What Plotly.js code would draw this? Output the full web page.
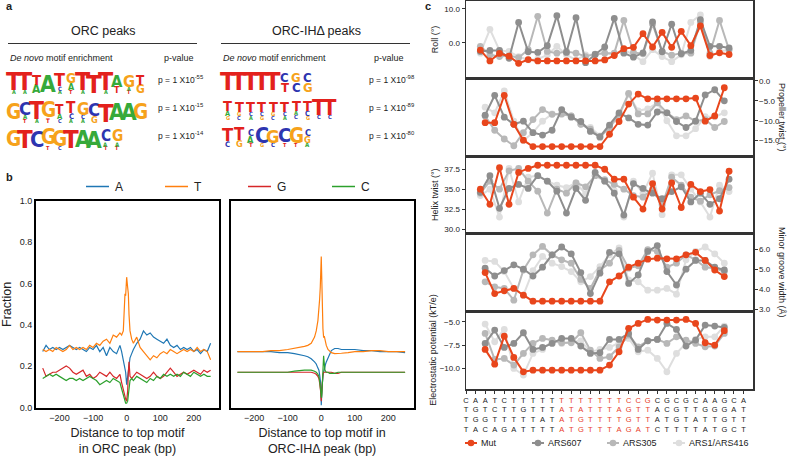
<!DOCTYPE html>
<html><head><meta charset="utf-8">
<script src="https://cdn.plot.ly/plotly-3.0.1.min.js"></script>
<style>html,body{margin:0;padding:0;background:#fff}#chart{width:788px;height:456px}</style>
</head><body><div id="chart"></div>
<script>
// ---------------- DATA ----------------
// Panel a: motif logos (columns listed top-to-bottom as [letter, relative height])
const LOGO_ORC_1 = [
 [['T',0.83],['A',0.15]], [['T',0.83],['A',0.15]], [['T',0.5],['A',0.4]], [['A',0.92]],
 [['T',0.6],['C',0.2],['A',0.15]], [['G',0.45],['A',0.3],['T',0.15]], [['T',0.83],['A',0.15]],
 [['T',0.9]], [['T',0.83],['A',0.15]], [['A',0.55],['T',0.3]], [['G',0.55],['A',0.15],['T',0.15]],
 [['T',0.45],['G',0.4]]
];
const LOGO_ORC_2 = [
 [['G',0.95]], [['C',0.6],['A',0.2],['T',0.15]], [['T',0.8],['A',0.15]], [['G',0.7],['T',0.2]],
 [['T',0.45],['A',0.25],['C',0.15]], [['T',0.5],['C',0.25],['A',0.15]], [['G',0.55],['C',0.2],['A',0.15]],
 [['C',0.6],['G',0.3]], [['T',0.9]], [['A',0.95]], [['A',0.95]], [['G',0.95]]
];
const LOGO_ORC_3 = [
 [['G',0.95]], [['T',0.95]], [['C',0.95]], [['G',0.8],['T',0.15]], [['G',0.7],['C',0.15]],
 [['T',0.95]], [['A',0.95]], [['A',0.9]], [['C',0.5],['A',0.2],['T',0.15]], [['G',0.5],['A',0.2],['T',0.15]]
];
const LOGO_IH_1 = [
 [['T',0.98]], [['T',0.98]], [['T',0.98]], [['T',0.98]], [['T',0.98]],
 [['C',0.45],['T',0.45]], [['G',0.45],['C',0.45]], [['C',0.45],['G',0.45]]
];
const LOGO_IH_2 = [
 [['T',0.5],['A',0.25],['G',0.18]], [['T',0.5],['G',0.2],['C',0.18]], [['T',0.5],['C',0.2],['A',0.18]],
 [['T',0.5],['C',0.2],['G',0.18]], [['T',0.5],['G',0.2],['C',0.18]], [['T',0.5],['C',0.2],['A',0.18]],
 [['T',0.5],['A',0.2],['C',0.2]], [['T',0.5],['C',0.25],['G',0.18]], [['T',0.75],['C',0.2]], [['T',0.75],['C',0.2]]
];
const LOGO_IH_3 = [
 [['T',0.6],['C',0.25]], [['T',0.55],['G',0.3]], [['C',0.3],['A',0.3],['T',0.2]], [['C',0.7],['G',0.18]],
 [['G',0.6],['C',0.2]], [['C',0.65],['T',0.18]], [['G',0.7],['T',0.15]], [['C',0.3],['G',0.3],['A',0.2]]
];
const PVAL_ORC = ['-55','-15','-14'];
const PVAL_IH = ['-98','-89','-80'];

// Panel b: nucleotide fraction profiles
const NT_NAMES = ['A','T','G','C'];
const X_ORC = [-250,-240,-230,-220,-210,-200,-190,-180,-170,-160,-150,-140,-130,-120,-110,-100,-90,-80,-70,-60,-50,-40,-30,-20,
 -15,-10,-5,-3,0,3,5,7,10,15,
 20,30,40,50,60,70,80,90,100,110,120,130,140,150,160,170,180,190,200,210,220,230,240,250];
const A_ORC = [0.27,0.30,0.28,0.29,0.28,0.29,0.28,0.29,0.30,0.29,0.28,0.29,0.28,0.27,0.29,0.28,0.30,0.27,0.29,0.25,0.29,0.27,0.26,0.30,
 0.27,0.22,0.19,0.17,0.11,0.16,0.19,0.22,0.24,0.26,
 0.28,0.31,0.33,0.37,0.35,0.36,0.34,0.33,0.32,0.31,0.33,0.30,0.29,0.30,0.28,0.29,0.28,0.29,0.27,0.28,0.26,0.28,0.27,0.31];
const T_ORC = [0.28,0.27,0.28,0.27,0.29,0.28,0.27,0.28,0.30,0.28,0.29,0.28,0.29,0.28,0.30,0.29,0.31,0.30,0.32,0.33,0.31,0.35,0.34,0.36,
 0.35,0.37,0.55,0.54,0.63,0.58,0.55,0.45,0.37,0.33,
 0.31,0.34,0.29,0.27,0.25,0.23,0.25,0.24,0.26,0.27,0.26,0.28,0.27,0.26,0.27,0.28,0.27,0.28,0.27,0.29,0.27,0.28,0.27,0.23];
const G_ORC = [0.19,0.15,0.16,0.17,0.17,0.18,0.19,0.20,0.19,0.17,0.16,0.17,0.18,0.15,0.16,0.14,0.15,0.17,0.16,0.15,0.17,0.15,0.14,0.16,
 0.12,0.08,0.05,0.04,0.03,0.08,0.17,0.22,0.15,0.14,
 0.15,0.17,0.16,0.15,0.14,0.15,0.17,0.15,0.14,0.15,0.17,0.19,0.17,0.15,0.16,0.17,0.16,0.17,0.18,0.17,0.16,0.18,0.17,0.18];
const C_ORC = [0.14,0.15,0.16,0.15,0.16,0.15,0.14,0.13,0.14,0.14,0.13,0.14,0.13,0.14,0.15,0.14,0.13,0.11,0.12,0.13,0.12,0.14,0.13,0.12,
 0.09,0.06,0.03,0.02,0.02,0.03,0.06,0.10,0.13,0.14,
 0.13,0.15,0.14,0.13,0.12,0.14,0.13,0.15,0.14,0.16,0.15,0.16,0.15,0.16,0.15,0.17,0.16,0.15,0.17,0.16,0.15,0.16,0.15,0.15];

const X_IH = [-250,-225,-200,-175,-150,-125,-100,-80,-60,-50,-40,-30,-20,-15,-10,-7,-5,-3,-2,-1,0,
 1,2,3,5,7,8,9,11,13,15,20,25,30,40,50,60,80,100,125,150,175,200,225,250];
const A_IH = [0.27,0.27,0.27,0.27,0.27,0.265,0.265,0.26,0.255,0.25,0.245,0.235,0.22,0.21,0.19,0.18,0.16,0.14,0.12,0.08,0.01,
 0.05,0.09,0.12,0.15,0.17,0.18,0.19,0.20,0.21,0.22,0.24,0.26,0.275,0.285,0.285,0.28,0.28,0.28,0.275,0.275,0.27,0.27,0.27,0.265];
const T_IH = [0.27,0.27,0.27,0.27,0.275,0.275,0.28,0.285,0.29,0.295,0.30,0.31,0.34,0.37,0.42,0.47,0.52,0.58,0.63,0.69,0.73,
 0.66,0.57,0.48,0.38,0.34,0.34,0.345,0.33,0.31,0.30,0.28,0.27,0.265,0.26,0.26,0.262,0.265,0.27,0.27,0.275,0.275,0.27,0.27,0.27];
const G_IH = [0.17,0.17,0.17,0.17,0.17,0.17,0.17,0.17,0.17,0.17,0.17,0.17,0.165,0.16,0.15,0.14,0.12,0.10,0.08,0.05,0.03,
 0.06,0.10,0.13,0.16,0.17,0.17,0.17,0.17,0.17,0.17,0.17,0.17,0.17,0.165,0.165,0.17,0.17,0.17,0.17,0.17,0.17,0.17,0.17,0.17];
const C_IH = [0.17,0.17,0.17,0.17,0.17,0.17,0.17,0.175,0.18,0.18,0.18,0.18,0.175,0.17,0.16,0.15,0.13,0.11,0.09,0.07,0.05,
 0.05,0.07,0.12,0.20,0.25,0.23,0.20,0.18,0.175,0.17,0.17,0.165,0.165,0.165,0.17,0.17,0.17,0.17,0.17,0.17,0.17,0.17,0.17,0.17];

// Panel c: DNA shape features
const SEQ_MUT = 'CAATCTTTTTTTTTTTTCCGCGCGCAAGCA';
const SEQ_607 = 'TGTCTTGTTTATATTTAGTTACGTTGGGAT';
const SEQ_305 = 'TGGTTTTTATATGTTTTGTTATGTATTGTT';
const SEQ_ARS1 = 'TACAGATTTTATGTTTAGATCTTTTATGCT';
const POS_STEP = [1.5,2.5,3.5,4.5,5.5,6.5,7.5,8.5,9.5,10.5,11.5,12.5,13.5,14.5,15.5,16.5,17.5,18.5,19.5,20.5,21.5,22.5,23.5,24.5,25.5,26.5,27.5];
const POS_BASE = [2,3,4,5,6,7,8,9,10,11,12,13,14,15,16,17,18,19,20,21,22,23,24,25,26,27];

const ROLL_MUT = [-2.1,-5.3,-3.1,-3.9,-6.0,-4.9,-5.3,-5.3,-5.3,-5.3,-5.3,-5.3,-5.3,-5.0,-3.7,-1.7,-1.3,2.7,-1.2,3.1,-1.3,3.4,-0.8,5.0,-3.7,-2.9,-3.4];
const ROLL_607 = [-2.5,-2.2,-2.2,-4.5,6.0,-2.6,-2.8,-0.8,8.0,-2.8,7.4,-5.8,-3.4,-1.2,7.2,-3.0,-4.2,-2.9,6.2,-2.6,5.5,-3.2,-2.2,6.8,-1.0,-1.0,-1.5];
const ROLL_305 = [-1.0,-3.5,-4.0,-3.8,-4.3,-2.0,7.8,-2.5,-3.0,-2.5,-3.0,-4.0,-3.3,-3.0,-3.0,6.6,-2.8,-3.2,5.5,-2.5,-3.6,-3.0,-3.0,6.0,-3.0,6.6,-2.0];
const ROLL_ARS1 = [-3.0,4.0,-2.2,-2.5,-4.0,-5.0,-4.8,-3.5,-1.0,-3.5,-5.0,-3.5,-3.5,-3.0,-3.5,-2.0,-3.5,-5.5,-2.0,-4.0,-5.5,-3.5,6.0,8.2,-4.0,-2.5,-2.0];

const PT_MUT = [-10.5,-10.5,-3.6,-10.9,-14.9,-16.5,-16.5,-16.5,-16.5,-16.5,-16.5,-16.5,-16.5,-13.4,-10.2,-5.8,-3.3,-4.5,-4.5,-4.5,-4.5,-4.5,-4.3,-10.1,-8.8,-1.7];
const PT_607 = [-8.6,-3.6,-9.1,-10.9,-10.1,-13.0,-13.6,-12.4,-7.2,-9.1,-10.2,-12.7,-14.0,-11.1,-8.0,-9.3,-10.9,-11.1,-7.8,-8.0,-10.2,-11.7,-10.1,-3.5,-2.2,-5.0];
const PT_305 = [-8.8,-12.4,-14.6,-16.3,-13.0,-9.7,-7.2,-8.4,-8.3,-8.8,-10.9,-12.1,-14.2,-11.7,-8.4,-3.1,-8.3,-8.3,-5.5,-8.0,-9.7,-8.8,-10.1,-9.7,-11.7,-10.2];
const PT_ARS1 = [-6.6,-8.0,-2.5,-10.1,-15.0,-13.0,-10.1,-8.3,-8.4,-8.8,-10.9,-11.7,-13.8,-11.7,-8.8,-3.4,-7.5,-7.0,-5.5,-10.0,-13.8,-13.8,-12.0,-9.0,-9.0,-8.0];

const HELT_MUT = [35.0,33.1,37.7,33.1,37.1,37.6,38.0,38.0,38.0,38.0,38.0,38.0,38.0,37.5,36.25,36.25,34.0,32.5,35.7,32.5,35.8,32.7,35.6,34.7,34.95,32.25,37.25];
const HELT_607 = [34.6,36.7,32.6,35.1,35.6,35.1,36.7,36.0,34.75,32.0,35.1,33.6,37.1,36.0,34.5,31.75,35.7,35.1,34.5,33.8,34.7,35.3,33.4,34.5,33.1,33.8,36.25];
const HELT_305 = [34.5,36.0,35.0,37.3,37.6,36.0,34.75,32.0,35.0,34.5,35.8,35.3,36.7,36.2,35.6,35.0,34.2,34.0,35.0,33.0,36.5,35.5,34.0,33.5,34.3,34.8,35.2];
const HELT_ARS1 = [34.2,35.0,31.5,37.6,33.4,36.5,36.7,36.0,35.5,35.2,35.8,34.4,36.7,36.0,34.8,31.5,36.0,34.5,37.0,31.8,36.8,36.8,35.0,33.4,31.5,35.5,34.7];

const MGW_MUT = [4.82,3.77,3.91,4.03,3.69,3.39,3.39,3.39,3.39,3.39,3.39,3.39,3.39,4.36,4.65,5.09,5.29,5.49,5.54,5.51,5.51,5.71,5.83,5.43,4.95,4.62];
const MGW_607 = [5.04,4.65,4.92,5.21,4.99,4.65,5.09,5.71,6.10,5.76,4.82,3.77,4.79,5.83,5.76,4.28,4.70,5.88,6.17,4.87,4.20,4.99,5.43,5.43,5.09,4.95];
const MGW_305 = [4.36,4.11,4.03,3.44,4.95,5.71,6.13,5.71,5.46,5.29,4.48,4.03,4.95,5.29,5.93,5.04,5.16,5.97,5.88,5.09,5.29,5.71,5.46,5.09,5.04,4.87];
const MGW_ARS1 = [5.43,5.38,4.87,4.03,3.69,4.92,5.63,5.29,5.12,4.87,4.36,4.62,5.12,5.71,6.05,4.45,4.36,3.94,3.94,4.03,3.74,5.46,5.88,6.10,5.76,5.29];

const EP_MUT = [-7.96,-9.54,-6.54,-8.82,-10.36,-10.18,-10.18,-10.18,-10.18,-10.18,-10.18,-10.18,-10.18,-9.64,-8.21,-5.71,-5.18,-4.75,-4.82,-4.82,-4.82,-4.75,-5.18,-7.25,-7.5,-5.96];
const EP_607 = [-7.32,-5.89,-7.75,-7.32,-6.18,-7.96,-7.75,-7.32,-6.79,-6.79,-7.61,-8.39,-8.32,-6.89,-6.89,-6.25,-7.96,-7.04,-6.89,-5.18,-5.82,-7.61,-6.96,-5.36,-5.46,-5.61];
const EP_305 = [-6.25,-9.04,-8.93,-9.64,-8.39,-7.32,-6.79,-6.96,-7.25,-7.25,-6.18,-8.04,-8.93,-8.75,-7.68,-6.43,-7.68,-7.04,-6.89,-7.32,-6.61,-6.96,-7.32,-7.68,-7.61,-6.25];
const EP_ARS1 = [-5.25,-7.14,-5.82,-10.0,-10.71,-8.39,-7.96,-7.04,-7.32,-7.14,-7.04,-8.21,-7.96,-7.75,-7.25,-6.79,-8.21,-8.04,-8.93,-10.36,-8.39,-7.32,-6.89,-6.61,-6.61,-5.46];

const SERIES_NAMES = ['Mut','ARS607','ARS305','ARS1/ARS416'];

// ---------------- BUILD ----------------
const W = 788, H = 456;
const px = x => x / W;
const py = y => 1 - y / H;
const FONT = 'Liberation Sans, Arial, Helvetica, sans-serif';
const LOGO_FONT = 'Liberation Sans Narrow, DejaVu Sans Condensed, Arial Narrow, sans-serif';
const LOGO_COL = {A:'#36a93a', C:'#2e35b0', G:'#f6a21b', T:'#e3211c'};
const LOGO_WF = {A:0.62, C:0.64, G:0.68, T:0.55};
const NT_COL = {A:'#1f77b4', T:'#ff7f0e', G:'#d62728', C:'#2ca02c'};
const SHAPE_COL = ['#e8461c', '#8e8e8e', '#b8b8b8', '#dedede'];
const RED_SEQ = '#e8402a';

const ann = [];
const shapes = [];
function txt(x, y, text, size, opt) {
  ann.push(Object.assign({x: px(x), y: py(y), xref: 'paper', yref: 'paper', text: text, showarrow: false,
    xanchor: 'center', yanchor: 'middle', font: {family: FONT, size: size, color: '#222'}}, opt || {}));
}
function hline(x0, x1, y, color, width) {
  shapes.push({type: 'line', xref: 'paper', yref: 'paper', x0: px(x0), x1: px(x1), y0: py(y), y1: py(y), line: {color: color, width: width}});
}
// panel labels
txt(4, 6, '<b>a</b>', 11, {xanchor: 'left'});
txt(4, 177, '<b>b</b>', 11, {xanchor: 'left'});
txt(428, 6, '<b>c</b>', 11);
// panel a headers
txt(103, 31, 'ORC peaks', 12.5);
txt(316, 31, 'ORC-IHΔ peaks', 12.5);
hline(8, 197, 43.5, '#333', 1);
hline(221, 410, 43.5, '#333', 1);
txt(8, 57.5, '<i>De novo</i> motif enrichment', 9, {xanchor: 'left'});
txt(221, 57.5, '<i>De novo</i> motif enrichment', 9, {xanchor: 'left'});
txt(178.5, 57.5, 'p-value', 9);
txt(389, 57.5, 'p-value', 9);
const PROW_Y = [79, 108, 135];
PVAL_ORC.forEach((p, i) => txt(156, PROW_Y[i], 'p = 1 X10<sup>' + p + '</sup>', 8.5, {xanchor: 'left'}));
PVAL_IH.forEach((p, i) => txt(367, PROW_Y[i], 'p = 1 X10<sup>' + p + '</sup>', 8.5, {xanchor: 'left'}));

function addLogo(cols, x0, bottom, colW, hPx) {
  cols.forEach((col, ci) => {
    const cx = x0 + colW * (ci + 0.5);
    let acc = 0;
    for (let k = col.length - 1; k >= 0; k--) {
      const L = col[k][0], h = col[k][1];
      const gh = h * hPx;
      const cy = bottom - acc - gh / 2;
      acc += gh;
      const fs = Math.max(Math.min(gh / 0.72, 1.22 * colW / LOGO_WF[L]), 5.5);
      ann.push({x: px(cx), y: py(cy), xref: 'paper', yref: 'paper', text: L, showarrow: false,
        xanchor: 'center', yanchor: 'middle', borderpad: 0,
        font: {family: LOGO_FONT, size: fs, color: LOGO_COL[L], weight: 700}});
    }
  });
}
addLogo(LOGO_ORC_1, 8, 93.5, 11.5, 21.5);
addLogo(LOGO_ORC_2, 8, 122.5, 11.5, 22);
addLogo(LOGO_ORC_3, 8, 149.5, 11.5, 22);
addLogo(LOGO_IH_1, 222, 92, 11.4, 21);
addLogo(LOGO_IH_2, 222, 119.5, 11.4, 21);
addLogo(LOGO_IH_3, 222, 147, 11.4, 22);

// right-side axis titles of panel c
txt(782, 117, 'Propeller twist (°)', 9, {textangle: 90});
txt(782, 272, 'Minor groove width (Å)', 9, {textangle: 90});

// legend keys (drawn by hand to match the original's compact keys)
const LEG_B_X = [86, 165, 248, 332];
NT_NAMES.forEach((nt, i) => {
  hline(LEG_B_X[i], LEG_B_X[i] + 23, 186.5, NT_COL[nt], 1.5);
  txt(LEG_B_X[i] + 27, 186.5, nt, 12, {xanchor: 'left'});
});
const LEG_C_X = [465, 532, 607, 673];
SERIES_NAMES.forEach((nm, i) => {
  hline(LEG_C_X[i], LEG_C_X[i] + 12, 443, SHAPE_COL[i], 2);
  shapes.push({type: 'circle', xref: 'paper', yref: 'paper', x0: px(LEG_C_X[i] + 6 - 3.3), x1: px(LEG_C_X[i] + 6 + 3.3),
    y0: py(443 + 3.3), y1: py(443 - 3.3), fillcolor: SHAPE_COL[i], line: {width: 0}});
  txt(LEG_C_X[i] + 13.5, 443, nm, 9, {xanchor: 'left'});
});

const traces = [];
// panel b
[[A_ORC, A_IH], [T_ORC, T_IH], [G_ORC, G_IH], [C_ORC, C_IH]].forEach(([yo, yi], i) => {
  const nt = NT_NAMES[i];
  traces.push({x: X_ORC, y: yo, xaxis: 'x', yaxis: 'y', type: 'scatter', mode: 'lines', name: nt,
    line: {color: NT_COL[nt], width: 1.2}, showlegend: false});
  traces.push({x: X_IH, y: yi, xaxis: 'x2', yaxis: 'y2', type: 'scatter', mode: 'lines', name: nt,
    line: {color: NT_COL[nt], width: 1.2}, showlegend: false});
});

// panel c
const SHAPES = [
  {pos: POS_STEP, ax: 3, data: [ROLL_MUT, ROLL_607, ROLL_305, ROLL_ARS1]},
  {pos: POS_BASE, ax: 4, data: [PT_MUT, PT_607, PT_305, PT_ARS1]},
  {pos: POS_STEP, ax: 5, data: [HELT_MUT, HELT_607, HELT_305, HELT_ARS1]},
  {pos: POS_BASE, ax: 6, data: [MGW_MUT, MGW_607, MGW_305, MGW_ARS1]},
  {pos: POS_BASE, ax: 7, data: [EP_MUT, EP_607, EP_305, EP_ARS1]}
];
SHAPES.forEach((s) => {
  for (let k = 3; k >= 0; k--) {
    traces.push({x: s.pos, y: s.data[k], xaxis: 'x' + s.ax, yaxis: 'y' + s.ax, type: 'scatter', mode: 'lines+markers',
      name: SERIES_NAMES[k], showlegend: false,
      line: {color: SHAPE_COL[k], width: 2}, marker: {color: SHAPE_COL[k], size: 6.8, symbol: 'circle'}});
  }
});

// sequence tick labels
const SEQS = [SEQ_MUT, SEQ_607, SEQ_305, SEQ_ARS1];
const seqVals = [], seqText = [];
for (let i = 0; i < SEQ_MUT.length; i++) {
  seqVals.push(i);
  seqText.push(SEQS.map(s => (i >= 10 && i < 20) ? '<span style="color:' + RED_SEQ + '">' + s[i] + '</span>' : s[i]).join('<br>'));
}

const layout = {
  width: W, height: H, margin: {l: 0, r: 0, t: 0, b: 0}, paper_bgcolor: '#fff', plot_bgcolor: '#fff',
  font: {family: FONT, color: '#222'},
  annotations: ann, shapes: shapes, showlegend: false
};
const bx = {range: [-270, 275], showline: true, mirror: true, linecolor: '#000', linewidth: 2, ticks: '',
  tickvals: [-200, -100, 0, 100, 200], showgrid: false, zeroline: false, tickfont: {size: 9, color: '#222'}, fixedrange: true};
const by = {range: [-0.003, 1.0], showline: true, mirror: true, linecolor: '#000', linewidth: 2, ticks: '',
  tickvals: [0, 0.2, 0.4, 0.6, 0.8, 1.0], tickformat: '.1f', showgrid: false, zeroline: false, tickfont: {size: 9, color: '#222'}};
layout.xaxis = Object.assign({}, bx, {domain: [px(36), px(219)], anchor: 'y',
  title: {text: 'Distance to top motif<br>in ORC peak (bp)', font: {size: 12.5, color: '#222'}}});
layout.yaxis = Object.assign({}, by, {domain: [py(408), py(200.7)], anchor: 'x',
  title: {text: 'Fraction', font: {size: 12.5, color: '#222'}}});
layout.xaxis2 = Object.assign({}, bx, {domain: [px(230.7), px(413.5)], anchor: 'y2',
  title: {text: 'Distance to top motif in<br>ORC-IHΔ peak (bp)', font: {size: 12.5, color: '#222'}}});
layout.yaxis2 = Object.assign({}, by, {domain: [py(408), py(200.7)], anchor: 'x2', showticklabels: false});

const C_TOPS = [1, 78, 156.5, 233, 311, 389];
const C_Y = [
  {range: [-10.3, 12.3], tickvals: [0, 10], side: 'left', title: 'Roll (°)'},
  {range: [-19, 0.75], tickvals: [0, -5, -10, -15], side: 'right', title: ''},
  {range: [29.5, 39.1], tickvals: [30, 32.5, 35, 37.5], side: 'left', title: 'Helix twist (°)'},
  {range: [2.9, 6.8], tickvals: [3, 4, 5, 6], side: 'right', title: ''},
  {range: [-12.2, -3.85], tickvals: [-10, -7.5, -5], side: 'left', title: 'Electrostatic potential (kT/e)'}
];
C_Y.forEach((c, i) => {
  const n = i + 3;
  const ya = {domain: [py(C_TOPS[i + 1]), py(C_TOPS[i])], anchor: 'x' + n, range: c.range, tickvals: c.tickvals,
    tickformat: '.1f', side: c.side, ticks: 'outside', ticklen: 3, tickcolor: '#333', showline: true, mirror: true,
    linecolor: '#333', linewidth: 1.5, showgrid: false, zeroline: false, tickfont: {size: 8, color: '#222'}};
  if (c.title) ya.title = {text: c.title, font: {size: 9, color: '#222'}};
  layout['yaxis' + n] = ya;
  layout['xaxis' + n] = {domain: [px(466), px(753)], anchor: 'y' + n, range: [0, 30], showline: true, mirror: true,
    linecolor: '#333', linewidth: 1.5, showgrid: false, zeroline: false, showticklabels: false, ticks: ''};
});
Object.assign(layout.xaxis7, {showticklabels: true, ticks: 'outside', ticklen: 3, tickcolor: '#333', tickvals: seqVals,
  ticktext: seqText, tickfont: {size: 7.5, color: '#222', family: FONT}, tickangle: 0});

Plotly.newPlot('chart', traces, layout, {staticPlot: true, displayModeBar: false});
</script></body></html>
